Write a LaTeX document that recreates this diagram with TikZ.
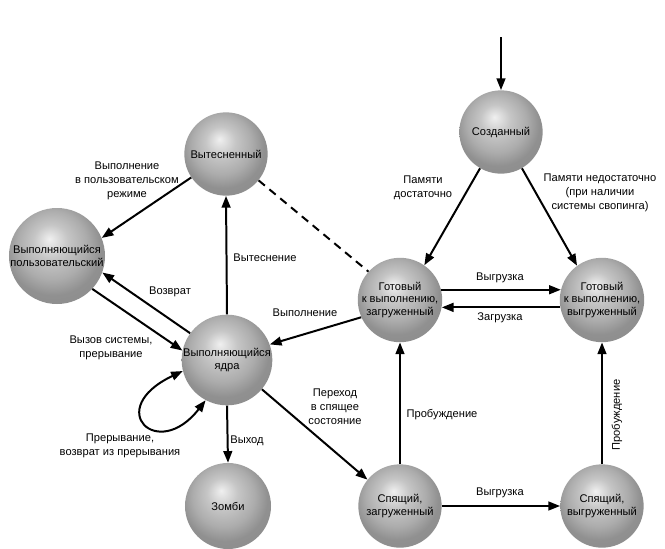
\documentclass[tikz,border=0pt]{standalone}
\usepackage{fontspec}
\setmainfont{Liberation Sans}
\usetikzlibrary{arrows.meta}
\pgfdeclareradialshading{globe}{\pgfpoint{-4bp}{9bp}}{color(0bp)=(gray!12); color(9bp)=(gray!45); color(18bp)=(gray!65); color(25bp)=(gray!87); color(50bp)=(gray!95)}

\begin{document}
\begin{tikzpicture}[x=0.03cm,y=-0.03cm,
	sphere/.style={circle,shade,shading=globe,minimum size=2.5cm,inner sep=0pt,align=center,font=\fontsize{9.5}{11}\selectfont},
	lbl/.style={align=center,font=\fontsize{9.5}{12}\selectfont},
	trans/.style={line width=1.7pt,-{Triangle[length=10pt,width=7.5pt]}}]
	\useasboundingbox (0,0) rectangle (665,548);

	\node[sphere] (created) at (501,132) {Созданный};
	\node[sphere] (readyin) at (400,300) {Готовый\\к выполнению,\\загруженный};
	\node[sphere] (readyout) at (602,300) {Готовый\\к выполнению,\\выгруженный};
	\node[sphere] (sleepin) at (400,506) {Спящий,\\загруженный};
	\node[sphere] (sleepout) at (602,506) {Спящий,\\выгруженный};
	\node[sphere] (preempt) at (226,154) {Вытесненный};
	\node[sphere,minimum size=2.88cm] (user) at (57,256) {Выполняющийся\\пользовательский};
	\node[sphere,minimum size=2.72cm] (kernel) at (227,360) {Выполняющийся\\ядра};
	\node[sphere,minimum size=2.58cm] (zombie) at (228,506) {Зомби};
	\coordinate (start) at (501,37);

	\draw[trans] (start) -- (created);
	\draw[trans] (created.240) -- (readyin.55);
	\draw[trans] (created.300) -- (readyout.126);
	\draw[trans] (readyin.14) -- (readyout.166);
	\draw[trans] (readyout.190) -- (readyin.-10);
	\draw[trans] (readyin.204) -- (kernel.20);
	\draw[line width=1.7pt,dash pattern=on 7pt off 5pt] (preempt.-39) -- (readyin.138);
	\draw[trans] (kernel.90) -- (preempt.270);
	\draw[trans] (preempt.214) -- (user.22);
	\draw[trans] (kernel.144) -- (user.-20);
	\draw[trans] (user.-43) -- (kernel.168);
	\draw[line width=1.7pt,{Triangle[length=10pt,width=7.5pt]}-{Triangle[length=10pt,width=7.5pt]}] (kernel.194) .. controls +(-80,38) and +(-48,62) .. (kernel.242);
	\draw[trans] (kernel.270) -- (zombie.90);
	\draw[trans] (kernel.-40) -- (sleepin.141);
	\draw[trans] (sleepin.90) -- (readyin.270);
	\draw[trans] (sleepin.0) -- (sleepout.180);
	\draw[trans] (sleepout.90) -- (readyout.270);

	\node[lbl] (lmem) at (423,188) {Памяти\\достаточно};
	\node[lbl] (lnomem) at (600,193) {Памяти недостаточно\\(при наличии\\системы свопинга)};
	\node[lbl] (lswapout) at (500,278) {Выгрузка};
	\node[lbl] (lswapin) at (500,318) {Загрузка};
	\node[lbl] (lrun) at (305,313) {Выполнение};
	\node[lbl] (lrunuser) at (127,181) {Выполнение\\в пользовательском\\режиме};
	\node[lbl] (lpreempt) at (265,258) {Вытеснение};
	\node[lbl] (lreturn) at (170,292) {Возврат};
	\node[lbl] (lsyscall) at (111,348) {Вызов системы,\\прерывание};
	\node[lbl] (lintr) at (120,446) {Прерывание,\\возврат из прерывания};
	\node[lbl] (lexit) at (247,441) {Выход};
	\node[lbl] (lsleep) at (335,407) {Переход\\в спящее\\состояние};
	\node[lbl] (lwake) at (442,415) {Пробуждение};
	\node[lbl] (lswapsleep) at (500,493) {Выгрузка};
	\node[lbl,rotate=90] (lwakeout) at (617,415) {Пробуждение};
\end{tikzpicture}
\end{document}
